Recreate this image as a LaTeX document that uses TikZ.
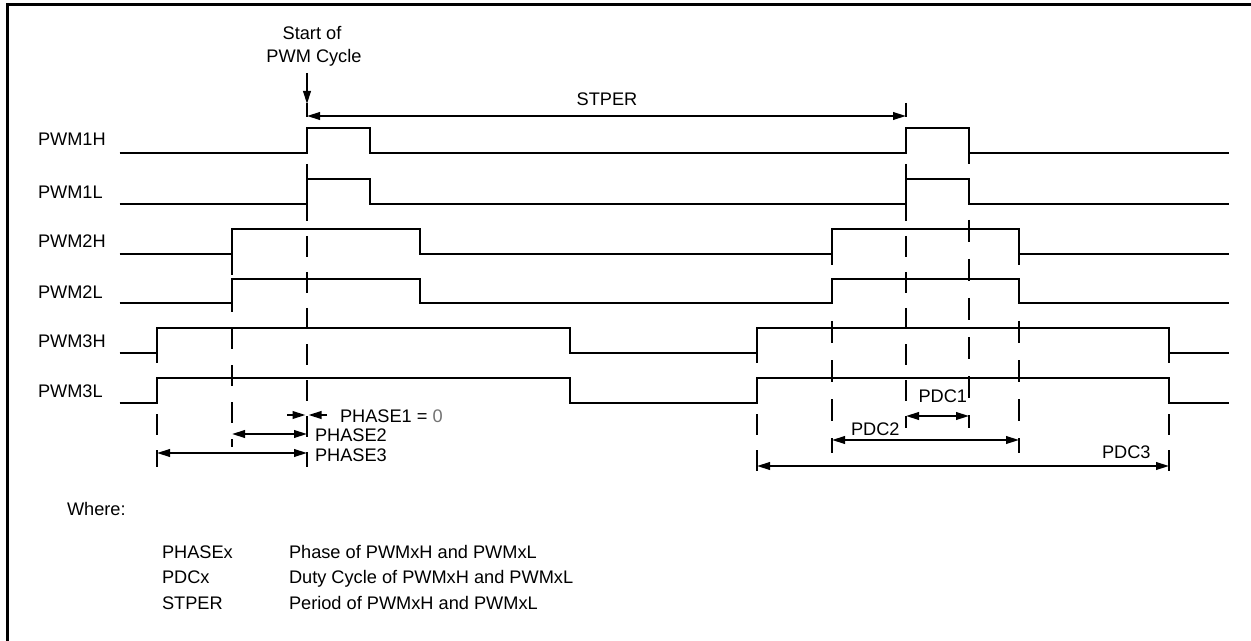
\documentclass[tikz,border=0pt]{standalone}
\usepackage{fontspec}
\setmainfont{Liberation Sans}
\usetikzlibrary{arrows.meta}
\tikzset{Tri/.tip={Triangle[length=6.5pt,width=3.8pt]}}
\begin{document}
\begin{tikzpicture}[x=0.5pt,y=-0.5pt,
  every node/.style={inner sep=0pt, outer sep=0pt, font=\fontsize{9.1pt}{11pt}\selectfont},
  sig/.style={line width=1pt},
  guide/.style 2 args={line width=1pt, dash pattern=on #1pt off #2pt},
  dimline/.style={line width=1pt, Tri-Tri},
  arr/.style={line width=1pt, -Tri},
  tick/.style={line width=1pt}]
\useasboundingbox (0,0) rectangle (1251,641);
% frame
\draw[line width=1.5pt] (7,680) -- (7,4.5) -- (1300,4.5);

% heading
\node[anchor=base] (start1) at (312,40) {Start of};
\node[anchor=base] (start2) at (314,63) {PWM Cycle};
\coordinate (cyc) at (307,104);
\coordinate (cycS) at (307,73);
\draw[arr] (cycS) -- (cyc);

% STPER
\coordinate (stA) at (307,116);
\coordinate (stB) at (906,116);
\draw[tick] (307,103) -- (307,117.5);
\draw[tick] (906,103) -- (906,117.5);
\draw[dimline] (stA) -- (stB);
\node[anchor=base] (stper) at (607,106) {STPER};

% guides (dashed)
\draw[guide={10.5}{7.5}] (307,128) -- (307,467);
\draw[guide={10.5}{8}] (232,254) -- (232,447);
\draw[guide={10.5}{7.5}] (157,342) -- (157,467);
\draw[guide={10.5}{7.5}] (906,128) -- (906,428);
\draw[guide={11}{8.5}] (969,142) -- (969,428);
\draw[guide={11}{8.5}] (832,243) -- (832,453);
\draw[guide={11}{8.5}] (1019,243) -- (1019,453);
\draw[guide={10.5}{7.5}] (757,342) -- (757,478);
\draw[guide={10.5}{7.5}] (1169,342) -- (1169,478);

% signals
\foreach \hi/\lo/\a/\b/\c/\d in {128/153/307/370/906/969, 179/204/307/370/906/969,
   229/254/232/420/832/1019, 279/303/232/420/832/1019,
   328/353/157/570/757/1169, 378/403/157/570/757/1169}
  \draw[sig] (119.5,\lo) -- (\a,\lo) -- (\a,\hi) -- (\b,\hi) -- (\b,\lo) -- (\c,\lo) -- (\c,\hi) -- (\d,\hi) -- (\d,\lo) -- (1229,\lo);

% signal labels
\node[anchor=base west] (n1h) at (38,145.5) {PWM1H};
\node[anchor=base west] (n1l) at (38,198.5) {PWM1L};
\node[anchor=base west] (n2h) at (38,248) {PWM2H};
\node[anchor=base west] (n2l) at (38,298.5) {PWM2L};
\node[anchor=base west] (n3h) at (38,347.5) {PWM3H};
\node[anchor=base west] (n3l) at (38,397) {PWM3L};

% phase dimensions
\coordinate (p1a) at (287,415);
\coordinate (p1b) at (305.5,415);
\coordinate (p1c) at (327,415);
\coordinate (p1d) at (308.5,415);
\draw[arr] (p1a) -- (p1b);
\draw[arr] (p1c) -- (p1d);
\node[anchor=base west] (ph1) at (340,422) {PHASE1 = \textcolor{black!55}{0}};
\coordinate (p2a) at (232,434);
\coordinate (p2b) at (307,434);
\draw[dimline] (p2a) -- (p2b);
\node[anchor=base west] (ph2) at (315,441) {PHASE2};
\coordinate (p3a) at (157,453);
\coordinate (p3b) at (307,453);
\draw[dimline] (p3a) -- (p3b);
\node[anchor=base west] (ph3) at (315,461) {PHASE3};

% duty cycle dimensions
\coordinate (d1a) at (906,416);
\coordinate (d1b) at (969,416);
\draw[dimline] (d1a) -- (d1b);
\node[anchor=base west] (pdc1) at (918.5,402) {PDC1};
\coordinate (d2a) at (832,440);
\coordinate (d2b) at (1019,440);
\draw[dimline] (d2a) -- (d2b);
\node[anchor=base west] (pdc2) at (851,435) {PDC2};
\coordinate (d3a) at (757,466);
\coordinate (d3b) at (1169,466);
\draw[dimline] (d3a) -- (d3b);
\node[anchor=base west] (pdc3) at (1102,458) {PDC3};

% legend
\node[anchor=base west] (where) at (67,515.5) {Where:};
\node[anchor=base west] (k1) at (162,558) {PHASEx};
\node[anchor=base west] (v1) at (289,558) {Phase of PWMxH and PWMxL};
\node[anchor=base west] (k2) at (162,583.5) {PDCx};
\node[anchor=base west] (v2) at (289,583.5) {Duty Cycle of PWMxH and PWMxL};
\node[anchor=base west] (k3) at (162,609.5) {STPER};
\node[anchor=base west] (v3) at (289,609.5) {Period of PWMxH and PWMxL};
\end{tikzpicture}
\end{document}
